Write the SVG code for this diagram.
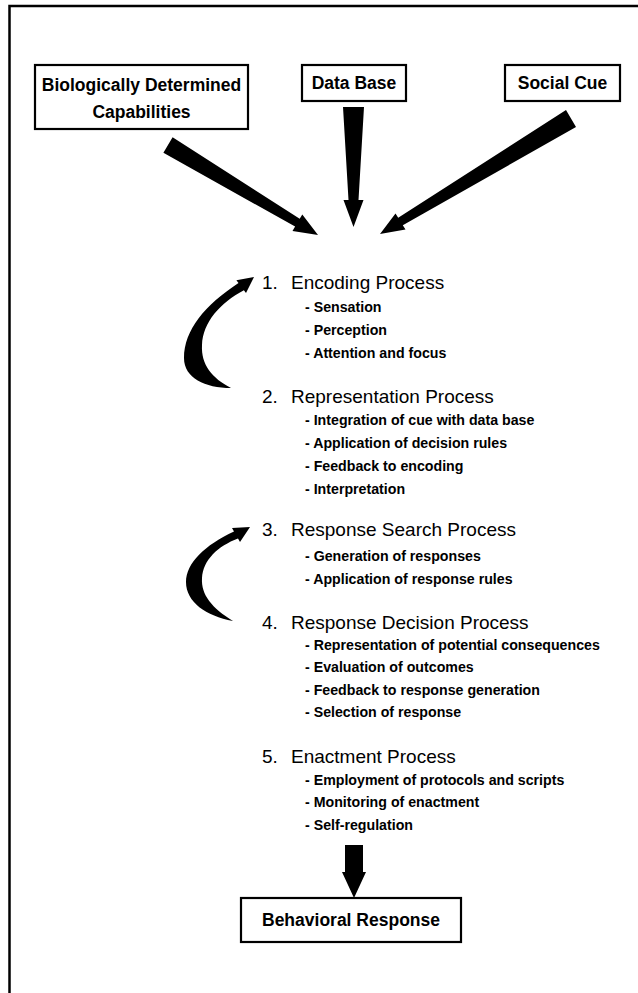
<svg xmlns="http://www.w3.org/2000/svg" width="638" height="993" viewBox="0 0 638 993">
<style>
.frame{fill:none;stroke:#000;stroke-width:2.5}
.box{fill:#fff;stroke:#000;stroke-width:2.2}
.lbl{font-family:"Liberation Sans",Arial,sans-serif;font-weight:bold;font-size:17.5px;text-anchor:middle;fill:#000}
.hd{font-family:"Liberation Sans",Arial,sans-serif;font-size:19px;fill:#000}
.it{font-family:"Liberation Sans",Arial,sans-serif;font-weight:bold;font-size:14.2px;fill:#000}
.arr{fill:#000;stroke:none}
</style>
<rect width="638" height="993" fill="#fff"/>
<path class="frame" d="M638,6 L9.5,6 L9.5,993"/>

<g id="bio">
<rect class="box" x="35" y="65" width="213" height="64"/>
<text class="lbl" x="141.5" y="91">Biologically Determined</text>
<text class="lbl" x="141.5" y="118">Capabilities</text>
</g>
<g id="database">
<rect class="box" x="302" y="65" width="104" height="36"/>
<text class="lbl" x="354" y="89">Data Base</text>
</g>
<g id="socialcue">
<rect class="box" x="505" y="65" width="115" height="36"/>
<text class="lbl" x="562.5" y="89">Social Cue</text>
</g>

<g id="encoding">
<text class="hd" y="289"><tspan x="262">1.</tspan><tspan x="291">Encoding Process</tspan></text>
<text class="it" x="305" y="312">- Sensation</text>
<text class="it" x="305" y="335">- Perception</text>
<text class="it" x="305" y="358">- Attention and focus</text>
</g>
<g id="representation">
<text class="hd" y="403"><tspan x="262">2.</tspan><tspan x="291">Representation Process</tspan></text>
<text class="it" x="305" y="425">- Integration of cue with data base</text>
<text class="it" x="305" y="448">- Application of decision rules</text>
<text class="it" x="305" y="471">- Feedback to encoding</text>
<text class="it" x="305" y="494">- Interpretation</text>
</g>
<g id="search">
<text class="hd" y="536"><tspan x="262">3.</tspan><tspan x="291">Response Search Process</tspan></text>
<text class="it" x="305" y="561">- Generation of responses</text>
<text class="it" x="305" y="584">- Application of response rules</text>
</g>
<g id="decision">
<text class="hd" y="629"><tspan x="262">4.</tspan><tspan x="291">Response Decision Process</tspan></text>
<text class="it" x="305" y="650">- Representation of potential consequences</text>
<text class="it" x="305" y="672">- Evaluation of outcomes</text>
<text class="it" x="305" y="695">- Feedback to response generation</text>
<text class="it" x="305" y="717">- Selection of response</text>
</g>
<g id="enactment">
<text class="hd" y="763"><tspan x="262">5.</tspan><tspan x="291">Enactment Process</tspan></text>
<text class="it" x="305" y="785">- Employment of protocols and scripts</text>
<text class="it" x="305" y="807">- Monitoring of enactment</text>
<text class="it" x="305" y="830">- Self-regulation</text>
</g>
<g id="behavioral">
<rect class="box" x="241" y="898" width="220" height="44"/>
<text class="lbl" x="351" y="926">Behavioral Response</text>
</g>

<g id="connectors">
<polygon class="arr" points="172.6,137.3 299.7,218.8 302.3,214.5 318,235 292.5,230.9 295.1,226.6 163.4,152.7"/>
<polygon class="arr" points="343,107 364,107 358.5,200 363.5,200 353.5,227 343.5,200 348.5,200"/>
<polygon class="arr" points="566,110 398.2,217.7 395.5,213.4 380,234 405.5,229.6 402.8,225.3 576,127"/>
<path class="arr" d="M254,277 L236.4,280.2 L238.5,283 C205,305 184,330 184,358 C184,378 205,388 231,388 C212,378 201,365 202,345 C203,322 220,303 243.9,290.2 L246,293 Z"/>
<path class="arr" d="M250,527 L232,528 L234,531.5 C205,545 186,563 186,582 C186,602 206,616 233,621 C212,608 201,595 202,578 C203,560 218,546 238,538.5 L240,542 Z"/>
<polygon class="arr" points="345,845 363,845 363,872 366,872 354,898 342,872 345,872"/>
</g>
</svg>
